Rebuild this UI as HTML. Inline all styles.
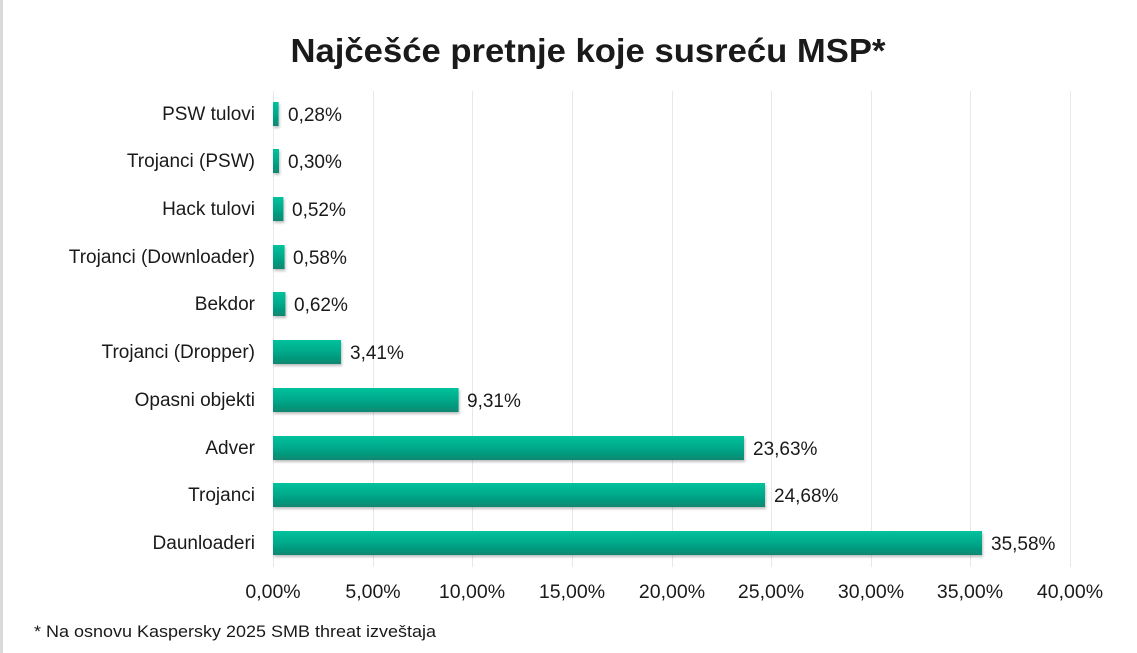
<!DOCTYPE html>
<html><head><meta charset="utf-8"><style>
html,body{margin:0;padding:0;background:#fff;}
svg{display:block;}
text{font-family:"Liberation Sans",sans-serif;fill:#1a1a1a;}
</style></head><body>
<svg width="1137" height="653" viewBox="0 0 1137 653" xmlns="http://www.w3.org/2000/svg">
<defs>
<linearGradient id="g" x1="0" y1="0" x2="0" y2="1">
<stop offset="0" stop-color="#00c29d"/>
<stop offset="0.5" stop-color="#00a98a"/>
<stop offset="1" stop-color="#0a8770"/>
</linearGradient>
<filter id="sh" x="-5%" y="-20%" width="110%" height="160%">
<feDropShadow dx="1" dy="2" stdDeviation="1.2" flood-color="#000" flood-opacity="0.25"/>
</filter>
</defs>
<rect x="0" y="0" width="3" height="653" fill="#d9d9d9"/>
<text x="588" y="62" text-anchor="middle" font-size="33" font-weight="bold" textLength="595" lengthAdjust="spacingAndGlyphs">Najčešće pretnje koje susreću MSP*</text>
<g stroke="#e8e8e8" stroke-width="1">
<line x1="273.5" y1="91" x2="273.5" y2="567"/>
<line x1="373.5" y1="91" x2="373.5" y2="567"/>
<line x1="472.5" y1="91" x2="472.5" y2="567"/>
<line x1="572.5" y1="91" x2="572.5" y2="567"/>
<line x1="672.5" y1="91" x2="672.5" y2="567"/>
<line x1="771.5" y1="91" x2="771.5" y2="567"/>
<line x1="871.5" y1="91" x2="871.5" y2="567"/>
<line x1="970.5" y1="91" x2="970.5" y2="567"/>
<line x1="1070.5" y1="91" x2="1070.5" y2="567"/>
</g>
<g fill="url(#g)" filter="url(#sh)">
<rect x="273" y="102" width="5.6" height="24"/>
<rect x="273" y="149" width="6" height="24"/>
<rect x="273" y="197" width="10.4" height="24"/>
<rect x="273" y="245" width="11.6" height="24"/>
<rect x="273" y="292" width="12.4" height="24"/>
<rect x="273" y="340" width="68" height="24"/>
<rect x="273" y="388" width="185.6" height="24"/>
<rect x="273" y="436" width="471" height="24"/>
<rect x="273" y="483" width="492" height="24"/>
<rect x="273" y="531" width="709" height="24"/>
</g>
<g font-size="19" text-anchor="end">
<text x="255" y="120">PSW tulovi</text>
<text x="255" y="167">Trojanci (PSW)</text>
<text x="255" y="215">Hack tulovi</text>
<text x="255" y="263">Trojanci (Downloader)</text>
<text x="255" y="310">Bekdor</text>
<text x="255" y="358">Trojanci (Dropper)</text>
<text x="255" y="406">Opasni objekti</text>
<text x="255" y="454">Adver</text>
<text x="255" y="501">Trojanci</text>
<text x="255" y="549">Daunloaderi</text>
</g>
<g font-size="19">
<text x="288" y="121">0,28%</text>
<text x="288" y="168">0,30%</text>
<text x="292" y="216">0,52%</text>
<text x="293" y="264">0,58%</text>
<text x="294" y="311">0,62%</text>
<text x="350" y="359">3,41%</text>
<text x="467" y="407">9,31%</text>
<text x="753" y="455">23,63%</text>
<text x="774" y="502">24,68%</text>
<text x="991" y="550">35,58%</text>
</g>
<g font-size="19.5" text-anchor="middle">
<text x="273" y="598">0,00%</text>
<text x="373" y="598">5,00%</text>
<text x="472" y="598">10,00%</text>
<text x="572" y="598">15,00%</text>
<text x="672" y="598">20,00%</text>
<text x="771" y="598">25,00%</text>
<text x="871" y="598">30,00%</text>
<text x="970" y="598">35,00%</text>
<text x="1070" y="598">40,00%</text>
</g>
<text x="34" y="637" font-size="17" textLength="402" lengthAdjust="spacingAndGlyphs">* Na osnovu  Kaspersky 2025 SMB threat izveštaja</text>
</svg>
</body></html>
